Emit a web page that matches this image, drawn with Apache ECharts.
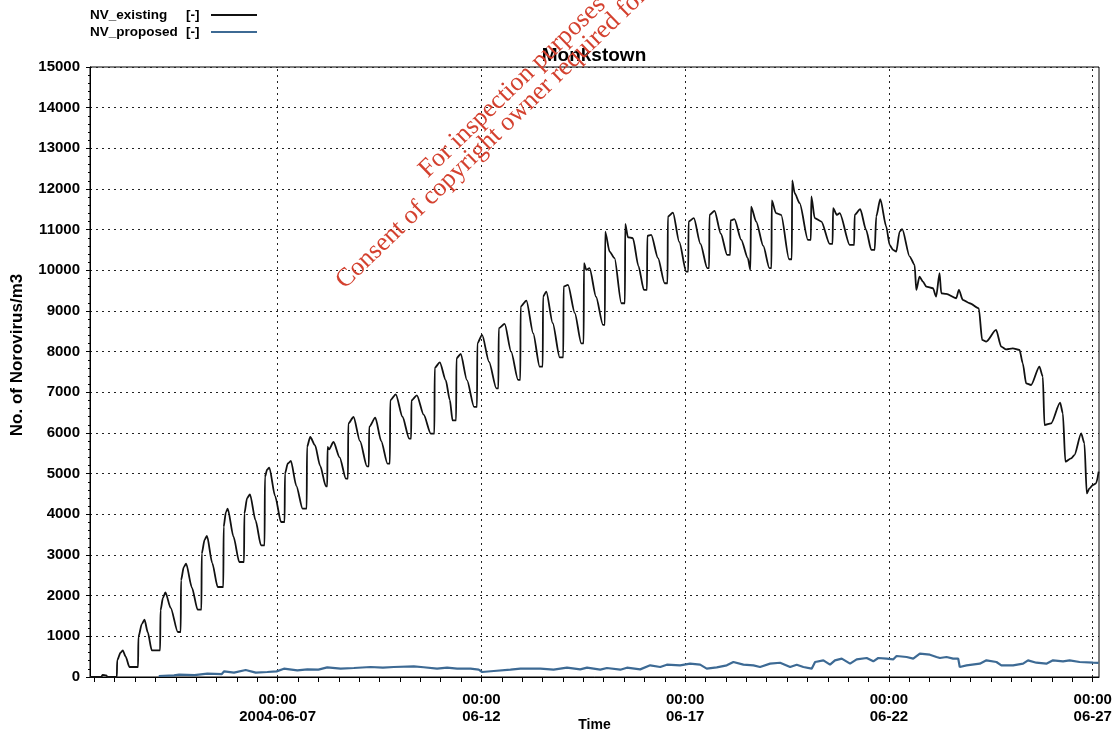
<!DOCTYPE html>
<html>
<head>
<meta charset="utf-8">
<script src="https://cdn.jsdelivr.net/npm/echarts@6/dist/echarts.min.js"></script>
<style>
html,body{margin:0;padding:0;background:#fff;}
#chart{width:1119px;height:734px;}
</style>
</head>
<body>
<div id="chart"></div>
<script>
// Time is in hours relative to 2004-06-07 00:00
const titleText = 'Monkstown';
const seriesNames = ['NV_existing', 'NV_proposed'];
const unitLabel = '[-]';
const yAxisName = 'No. of Norovirus/m3';
const xAxisName = 'Time';
const xLabelHours = [0, 120, 240, 360, 480];
const xTickLabels = ['00:00\n2004-06-07', '00:00\n06-12', '00:00\n06-17', '00:00\n06-22', '00:00\n06-27'];
const yTicks = [0, 1000, 2000, 3000, 4000, 5000, 6000, 7000, 8000, 9000, 10000, 11000, 12000, 13000, 14000, 15000];
const watermarkLines = ['For inspection purposes only.', 'Consent of copyright owner required for any other use.'];

const existing = [
  [-110.5, 0], [-104, 0], [-103, 50], [-101, 40], [-100, 0], [-94.7, 0],
  [-94.5, 410], [-92.5, 600], [-91.2, 656], [-89.5, 500], [-87.3, 246], [-82.2, 246],
  [-82.0, 984], [-80, 1300], [-78.4, 1410], [-76.5, 1100], [-74.1, 656], [-69.2, 656],
  [-69.0, 1639], [-67.5, 1950], [-66.1, 2082], [-63, 1700], [-58.8, 1107], [-57.1, 1107],
  [-56.9, 2377], [-55.3, 2700], [-53.9, 2787], [-50.5, 2200], [-47.1, 1656], [-44.9, 1656],
  [-44.7, 3033], [-43, 3380], [-41.6, 3467], [-38.5, 2800], [-35.3, 2213], [-32.0, 2213],
  [-31.8, 3689], [-30.5, 4050], [-29.4, 4139], [-26, 3450], [-22.6, 2828], [-19.8, 2828],
  [-19.6, 4016], [-18, 4400], [-16.3, 4492], [-13, 3850], [-9.8, 3238], [-7.7, 3238],
  [-7.5, 4918], [-6.2, 5100], [-4.9, 5148], [-1.5, 4450], [2.0, 3812], [4.1, 3812],
  [4.3, 5000], [6, 5250], [7.8, 5311], [11, 4700], [14.7, 4139], [17.1, 4139],
  [17.3, 5656], [19.2, 5902], [22, 5700], [25, 5200], [28.4, 4689], [29.2, 4689],
  [29.4, 5656], [30.3, 5600], [32.9, 5779], [36.5, 5400], [40.2, 4877], [41.4, 4877],
  [41.6, 6230], [44.7, 6394], [48.5, 5800], [52.6, 5180], [53.7, 5180],
  [53.9, 6148], [57.5, 6377], [61, 5800], [64.7, 5246], [66.1, 5246],
  [66.3, 6803], [69.6, 6951], [73.5, 6400], [77.5, 5861], [78.6, 5861],
  [78.8, 6803], [82.0, 6926], [86, 6450], [90.2, 5984], [92.3, 5984],
  [92.5, 7600], [95.5, 7738], [99, 7300], [101.4, 6811], [103.0, 6310], [105.1, 6310],
  [105.3, 7837], [107.8, 7943], [111.5, 7300], [115.7, 6640], [117.4, 6640],
  [117.6, 8206], [120.4, 8411], [124.5, 7750], [128.8, 7098], [130.0, 7098],
  [130.2, 8575], [133.7, 8682], [137.5, 8000], [141.6, 7304], [142.9, 7304],
  [143.1, 9108], [146.5, 9256], [150.5, 8450], [154.3, 7632], [156.1, 7632],
  [156.3, 9354], [158.2, 9477], [162, 8700], [166.1, 7861], [168.2, 7861],
  [168.4, 9600], [171.0, 9641], [175, 8950], [178.8, 8206], [180.2, 8206],
  [180.4, 10175], [181.8, 10011], [183.7, 10052], [187.5, 9350], [191.6, 8657], [192.7, 8657],
  [192.9, 10954], [195.5, 10462], [198.4, 10298], [202.4, 9190], [204.5, 9190],
  [204.7, 11142], [206.3, 10814], [209.2, 10790], [212.5, 10100], [215.7, 9518], [217.5, 9518],
  [217.7, 10847], [220.0, 10872], [224, 10300], [227.9, 9682], [229.6, 9682],
  [229.8, 11323], [232.8, 11421], [236.5, 10700], [240.6, 9969], [241.8, 9969],
  [242.0, 11200], [245.1, 11282], [249, 10650], [253.0, 10052], [254.1, 10052],
  [254.3, 11364], [257.3, 11462], [261, 10900], [264.7, 10380], [266.5, 10380],
  [266.7, 11225], [269.0, 11257], [273, 10750], [276.9, 10298], [278.4, 10011],
  [278.8, 11569], [281.8, 11200], [286, 10600], [289.6, 10052], [290.8, 10052],
  [291.0, 11717], [293.5, 11405], [296.5, 11364], [301.2, 10273], [302.8, 10273],
  [303.0, 12209], [304.5, 11897], [307.4, 11651], [312.3, 10749], [314.0, 10749],
  [314.3, 11815], [316.3, 11282], [320.2, 11200], [325.1, 10650], [326.8, 10650],
  [327.1, 11528], [329.4, 11364], [331.0, 11405], [336.9, 10626], [339.5, 10626],
  [339.8, 11364], [343.1, 11503], [346.5, 11000], [349.6, 10503], [351.6, 10503],
  [352.5, 11323], [354.9, 11750], [358.4, 11077], [360.4, 10626], [362.4, 10503], [364.3, 10462],
  [366.3, 10954], [367.8, 11011], [372.2, 10339], [375.1, 10134], [376.1, 9518], [378.0, 9846],
  [380.0, 9723], [382.0, 9600], [385.9, 9559], [387.8, 9354], [389.8, 9928], [390.8, 9436],
  [393.7, 9420], [399.6, 9313], [401.2, 9518], [403.5, 9272], [407.5, 9190], [412.9, 9067],
  [414.9, 8288], [417.3, 8247], [423.1, 8534], [426.1, 8124], [429.0, 8058], [432.9, 8083],
  [436.9, 8042], [438.8, 7714], [440.8, 7221], [443.7, 7180], [448.6, 7632], [450.6, 7386],
  [451.6, 6196], [455.5, 6237], [460.8, 6746], [462.4, 6483], [463.9, 5294], [467.3, 5376],
  [469.2, 5458], [473.2, 5991], [475.1, 5745], [476.5, 4515], [478.1, 4638], [480.0, 4720],
  [482.0, 4761], [483.5, 5048]
];

const proposed = [
  [-70, 25], [-61, 40], [-58, 60], [-49, 45], [-41.4, 82], [-33, 70], [-31.5, 140], [-25.7, 107],
  [-18.8, 172], [-12.9, 107], [-6.1, 123], [-0.6, 139], [3.7, 205], [11.6, 164], [17.5, 188],
  [24, 180], [29.2, 238], [37.1, 205], [44.9, 221], [54.7, 246], [62, 230], [68.4, 246],
  [80.2, 262], [86, 240], [93.9, 205], [99.8, 229], [105.7, 205], [113.6, 205], [118.4, 180],
  [120.4, 123], [127.3, 147], [137.1, 180], [143.0, 205], [154.7, 205], [162.5, 180],
  [170.4, 229], [178.2, 188], [182.2, 229], [190.0, 180], [193.9, 221], [201.8, 180],
  [205.7, 229], [213.5, 188], [219.4, 287], [225.3, 246], [229.2, 303], [237.0, 287],
  [242.9, 328], [248.8, 303], [252.7, 205], [258.6, 238], [264.5, 287], [268.4, 369],
  [274.3, 303], [280.2, 287], [284.1, 246], [290.0, 328], [295.9, 350], [301.8, 246],
  [305.7, 303], [309.6, 246], [314.5, 205], [316.5, 369], [321.4, 410], [325.3, 303],
  [328.2, 410], [332.2, 451], [337.1, 328], [341.0, 434], [346.9, 467], [350.8, 385],
  [353.7, 467], [358.6, 451], [362.6, 434], [364.5, 516], [370.4, 492], [374.3, 451],
  [378.2, 574], [384.1, 549], [388.0, 492], [390.0, 467], [393.9, 492], [397.8, 451],
  [400.8, 451], [401.7, 246], [405.7, 287], [413.5, 328], [417.4, 410], [423.3, 369],
  [426.2, 287], [433.1, 287], [439.0, 328], [441.9, 410], [446.8, 352], [452.7, 328],
  [456.6, 410], [462.5, 385], [466.4, 410], [472.3, 369], [480.2, 352], [483.5, 345]
];

const xMin = -110.5, xMax = 483.7;
const minorTickHours = [];
for (let h = -108; h <= 480; h += 12) minorTickHours.push(h);

const chart = echarts.init(document.getElementById('chart'), null, {renderer: 'canvas'});
const FONT = 'Liberation Sans, Arial, sans-serif';
const labelFont = {color: '#000', fontWeight: 'bold', fontSize: 15, fontFamily: FONT};
const deg = Math.PI / 180;
const gridDash = {color: '#222', type: [2, 4], width: 1};

chart.setOption({
  animation: false,
  backgroundColor: '#fff',
  title: {
    text: titleText, left: 589, top: 41, textAlign: 'center',
    textStyle: {color: '#000', fontWeight: 'bold', fontSize: 19, fontFamily: FONT}
  },
  legend: {
    left: 85, top: 3, orient: 'vertical', align: 'right', icon: 'rect',
    itemWidth: 46, itemHeight: 2, itemGap: 3,
    data: seriesNames,
    formatter: n => '{n|' + n + '}{u|' + unitLabel + '}',
    textStyle: {
      color: '#000', fontWeight: 'bold', fontSize: 13.5, fontFamily: FONT, lineHeight: 13,
      rich: {
        n: {width: 96, align: 'left', fontWeight: 'bold', fontSize: 13.5, fontFamily: FONT},
        u: {width: 20, align: 'left', fontWeight: 'bold', fontSize: 13.5, fontFamily: FONT}
      }
    }
  },
  grid: {left: 90, right: 20, top: 67, bottom: 57, show: true, borderColor: '#000', borderWidth: 1,
         backgroundColor: 'transparent', outerBoundsMode: 'none', containLabel: false},
  xAxis: {
    type: 'value', min: xMin, max: xMax,
    name: xAxisName, nameLocation: 'middle', nameGap: 41, nameMoveOverlap: false,
    nameTextStyle: {color: '#000', fontWeight: 'bold', fontSize: 14, fontFamily: FONT},
    axisLine: {show: true, onZero: false, lineStyle: {color: '#000', width: 1}},
    axisTick: {show: true, length: 5, customValues: minorTickHours, lineStyle: {color: '#000'}},
    axisLabel: {
      customValues: xLabelHours, margin: 14, lineHeight: 17, ...labelFont,
      formatter: v => { const i = xLabelHours.indexOf(Math.round(v)); return i >= 0 ? xTickLabels[i] : ''; }
    },
    splitLine: {show: false}
  },
  yAxis: {
    type: 'value', min: 0, max: 15000, interval: 1000,
    name: yAxisName, nameLocation: 'middle', nameGap: 64, nameMoveOverlap: false,
    nameTextStyle: {color: '#000', fontWeight: 'bold', fontSize: 17, fontFamily: FONT, padding: [0, 0, 0, 34]},
    axisLine: {show: true, onZero: false, lineStyle: {color: '#000', width: 1}},
    axisTick: {show: true, length: 4, lineStyle: {color: '#000'}},
    minorTick: {show: true, splitNumber: 5, length: 2, lineStyle: {color: '#000'}},
    axisLabel: {margin: 10, ...labelFont, formatter: v => yTicks.indexOf(v) >= 0 ? String(v) : ''},
    splitLine: {show: true, lineStyle: gridDash}
  },
  series: [{
    name: seriesNames[0], type: 'line', data: existing, symbol: 'none',
    smooth: 0.25, smoothMonotone: 'x',
    lineStyle: {color: '#111', width: 1.8}, itemStyle: {color: '#111'}, z: 3
  }, {
    name: seriesNames[1], type: 'line', data: proposed, symbol: 'none',
    lineStyle: {color: '#3d6a94', width: 2.2}, itemStyle: {color: '#3d6a94'}, z: 2,
    markLine: {
      silent: true, symbol: 'none', label: {show: false}, z: 1,
      lineStyle: gridDash, emphasis: {disabled: true},
      data: xLabelHours.map(h => ({xAxis: h}))
    }
  }],
  graphic: [{
    type: 'text', x: 432, y: 183, rotation: 44 * deg, z: 100,
    style: {text: watermarkLines[0], fontSize: 26, fontFamily: 'Liberation Serif, Times New Roman, serif', fill: '#d4412f', align: 'left', verticalAlign: 'bottom'}
  }, {
    type: 'text', x: 349, y: 294, rotation: 44 * deg, z: 100,
    style: {text: watermarkLines[1], fontSize: 26, fontFamily: 'Liberation Serif, Times New Roman, serif', fill: '#d4412f', align: 'left', verticalAlign: 'bottom'}
  }]
});
</script>
</body>
</html>
